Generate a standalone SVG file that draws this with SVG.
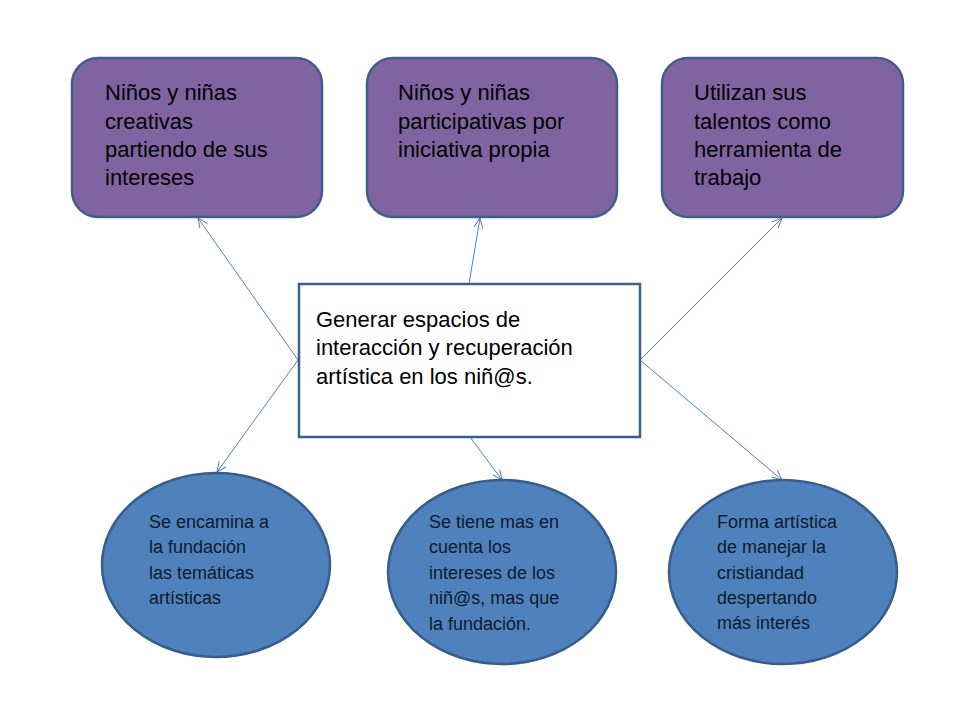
<svg xmlns="http://www.w3.org/2000/svg" width="960" height="720" viewBox="0 0 960 720">
<defs>
<marker id="arr" viewBox="0 0 10 10" refX="10" refY="5" markerWidth="10" markerHeight="10" markerUnits="userSpaceOnUse" orient="auto">
<path d="M0,0.5 L10,5 L0,9.5" fill="none" stroke="#4F81BD" stroke-width="1"/>
</marker>
</defs>
<style>
.box{fill:#8064A2;stroke:#3F5F8A;stroke-width:2.5}
.ell{fill:#4F81BD;stroke:#385D8A;stroke-width:2.5}
.ctr{fill:#FFFFFF;stroke:#3F5F8A;stroke-width:2.5}
.t{font-family:"Liberation Sans",Arial,sans-serif;fill:#000000}
.tb{font-size:22px}
.te{font-size:18px;fill:#0F1A2A}
.conn line{stroke:#4F81BD;stroke-width:1;marker-end:url(#arr)}
</style>
<rect width="960" height="720" fill="#FFFFFF"/>
<g id="connectors" class="conn">
<line x1="298" y1="360" x2="198" y2="218"/>
<line x1="298" y1="360" x2="217" y2="472"/>
<line x1="469" y1="284" x2="480" y2="218"/>
<line x1="470" y1="437" x2="502" y2="480"/>
<line x1="640" y1="360" x2="782" y2="218"/>
<line x1="640" y1="360" x2="782" y2="480"/>
</g>
<g id="box1">
<rect class="box" x="72" y="58" width="250" height="159" rx="26"/>
<text class="t tb" x="105"><tspan x="105" y="100">Niños y niñas</tspan><tspan x="105" y="129">creativas</tspan><tspan x="105" y="157">partiendo de sus</tspan><tspan x="105" y="185">intereses</tspan></text>
</g>
<g id="box2">
<rect class="box" x="367" y="58" width="250" height="159" rx="26"/>
<text class="t tb"><tspan x="398" y="100">Niños y niñas</tspan><tspan x="398" y="129">participativas por</tspan><tspan x="398" y="157">iniciativa propia</tspan></text>
</g>
<g id="box3">
<rect class="box" x="662" y="58" width="241" height="159" rx="26"/>
<text class="t tb"><tspan x="694" y="100">Utilizan sus</tspan><tspan x="694" y="129">talentos como</tspan><tspan x="694" y="157">herramienta de</tspan><tspan x="694" y="185">trabajo</tspan></text>
</g>
<g id="center">
<rect class="ctr" x="299" y="284" width="341" height="153"/>
<text class="t tb"><tspan x="316" y="327">Generar espacios de</tspan><tspan x="316" y="355">interacción y recuperación</tspan><tspan x="316" y="384">artística en los niñ@s.</tspan></text>
</g>
<g id="ell1">
<ellipse class="ell" cx="216" cy="565" rx="114" ry="92"/>
<text class="t te"><tspan x="149" y="528">Se encamina a</tspan><tspan x="149" y="553">la fundación</tspan><tspan x="149" y="579">las temáticas</tspan><tspan x="149" y="604">artísticas</tspan></text>
</g>
<g id="ell2">
<ellipse class="ell" cx="502" cy="572" rx="114" ry="92"/>
<text class="t te"><tspan x="429" y="528">Se tiene mas en</tspan><tspan x="429" y="553">cuenta los</tspan><tspan x="429" y="579">intereses de los</tspan><tspan x="429" y="604">niñ@s, mas que</tspan><tspan x="429" y="630">la fundación.</tspan></text>
</g>
<g id="ell3">
<ellipse class="ell" cx="783" cy="572" rx="114" ry="92"/>
<text class="t te"><tspan x="717" y="528">Forma artística</tspan><tspan x="717" y="553">de manejar la</tspan><tspan x="717" y="579">cristiandad</tspan><tspan x="717" y="604">despertando</tspan><tspan x="717" y="629">más interés</tspan></text>
</g>
</svg>
